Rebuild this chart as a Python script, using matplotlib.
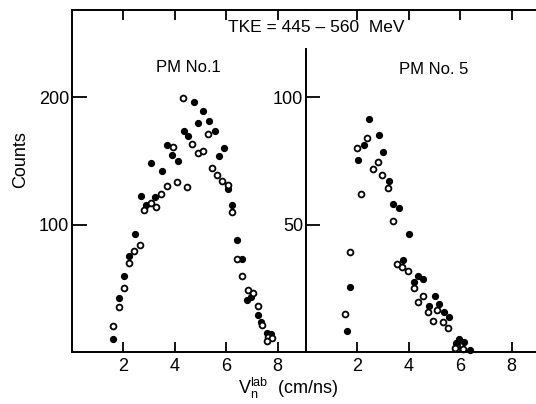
import matplotlib
matplotlib.use("Agg")
import matplotlib.pyplot as plt

plt.rcParams["font.family"] = ["Liberation Sans", "DejaVu Sans"]
plt.rcParams["mathtext.fontset"] = "custom"
plt.rcParams["mathtext.rm"] = "Liberation Sans"

# PM No. 1 (left panel)
pm1_filled_v = [1.61, 1.83, 2.04, 2.23, 2.44, 2.68, 2.88, 3.08, 3.23, 3.51, 3.68, 3.90,
                4.11, 4.35, 4.53, 4.75, 4.92, 5.10, 5.34, 5.55, 5.71, 5.93, 6.06, 6.24,
                6.42, 6.63, 6.80, 6.97, 7.22, 7.34, 7.58, 7.74]
pm1_filled_n = [10.4, 42.8, 59.5, 75.6, 92.5, 122.2, 115.1, 148.7, 121.6, 142, 163, 154.9,
                150.4, 173.5, 169.3, 196.2, 179.7, 189.5, 181.6, 173.5, 153.6, 160.1, 128.2, 115.3,
                87.6, 73.4, 41.2, 43, 29, 23.4, 14.8, 14.3]
pm1_open_v = [1.58, 1.83, 2.02, 2.22, 2.43, 2.65, 2.81, 3.06, 3.26, 3.45, 3.68, 3.92, 4.07,
              4.31, 4.46, 4.67, 4.92, 5.10, 5.28, 5.46, 5.64, 5.85, 6.06, 6.24, 6.42, 6.60,
              6.86, 7.06, 7.22, 7.40, 7.64, 7.77, 7.60]
pm1_open_n = [20.3, 35.2, 49.9, 70.1, 79.2, 83.7, 111.2, 117.2, 113.8, 124.3, 130.2, 161.4, 133.4,
              199.7, 130, 163.5, 156.2, 158, 170.9, 144.4, 139.4, 134.5, 130.8, 110.1, 73.4, 59.8,
              48.8, 46.2, 36, 21, 11.6, 11.2, 9.0]

# PM No. 5 (right panel)
pm5_filled_v = [1.58, 1.73, 2.03, 2.26, 2.44, 2.83, 3.0, 3.24, 3.38, 3.61, 3.78, 4.0, 4.19,
                4.35, 4.56, 4.79, 5.01, 5.18, 5.36, 5.57, 5.84, 5.97, 6.15, 6.40]
pm5_filled_n = [8.1, 25.5, 75.6, 81.5, 91.6, 85.4, 78.5, 67, 58.2, 56.6, 36.2, 46.2, 27.4,
                29.8, 28.7, 17.9, 21.8, 19, 15.9, 13.7, 3.5, 5, 3.8, 0.9]
pm5_open_v = [1.52, 1.73, 1.99, 2.13, 2.38, 2.61, 2.79, 2.96, 3.18, 3.38, 3.55, 3.74, 3.96,
              4.19, 4.35, 4.56, 4.74, 4.95, 5.1, 5.32, 5.52, 5.78, 6.11]
pm5_open_n = [15, 39.2, 80.2, 62.1, 84.2, 71.7, 74.5, 69.4, 64.5, 51.4, 34.4, 33.3, 32.0,
              25.1, 19.8, 21.8, 15.9, 12.1, 16.6, 11.9, 9.5, 1.5, 1.3]

xticks = [2, 4, 6, 8]

W, H = 536, 404
fig = plt.figure(figsize=(W / 100, H / 100), dpi=100)

px_per_v = 25.7
ax1 = fig.add_axes([72 / W, 1 - 352 / H, 234 / W, 342 / H])
ax2 = fig.add_axes([306 / W, 1 - 352 / H, 9.0 * px_per_v / W, 342 / H])

ax1.set_xlim(0, 234 / px_per_v)
ax1.set_ylim(0, 342 / 1.273)
ax2.set_xlim(0, 9.0)
ax2.set_ylim(0, 342 / 2.546)

for ax in (ax1, ax2):
    ax.spines["right"].set_visible(False)
    for s in ax.spines.values():
        s.set_linewidth(1.4)
    ax.set_xticks(xticks)
    ax.tick_params(axis="x", which="both", direction="in", top=True, bottom=True,
                   length=7.5, width=1.3, labelsize=13, pad=4)
    ax.tick_params(axis="x", labeltop=False)

ax1.set_yticks([100, 200])
ax1.tick_params(axis="y", direction="in", length=11, width=1.3, labelsize=13, pad=2)
ax2.set_yticks([50, 100])
ax2.tick_params(axis="y", direction="in", length=10, width=1.3, labelsize=13, pad=2)
ax2.spines["left"].set_bounds(0, 119)

ms = 4.2
ax1.plot(pm1_filled_v, pm1_filled_n, "o", color="black", ms=ms, clip_on=False)
ax1.plot(pm1_open_v, pm1_open_n, "o", mfc="white", mec="black", mew=1.3, ms=ms, clip_on=False)
ax2.plot(pm5_filled_v, pm5_filled_n, "o", color="black", ms=ms, clip_on=False)
ax2.plot(pm5_open_v, pm5_open_n, "o", mfc="white", mec="black", mew=1.3, ms=ms, clip_on=False)

def ftext(x, y, s, **kw):
    fig.text(x / W, 1 - y / H, s, ha="center", va="center", **kw)

ftext(316, 28, "TKE = 445 – 560  MeV", fontsize=12.5)
ftext(188, 68, "PM No.1", fontsize=12)
ftext(434, 69, "PM No. 5", fontsize=12)
ftext(21, 160, "Counts", fontsize=13, rotation=90)
ftext(288, 388, r"V$_\mathrm{n}^\mathrm{lab}$  (cm/ns)", fontsize=13)

fig.savefig("out.png", dpi=100)
